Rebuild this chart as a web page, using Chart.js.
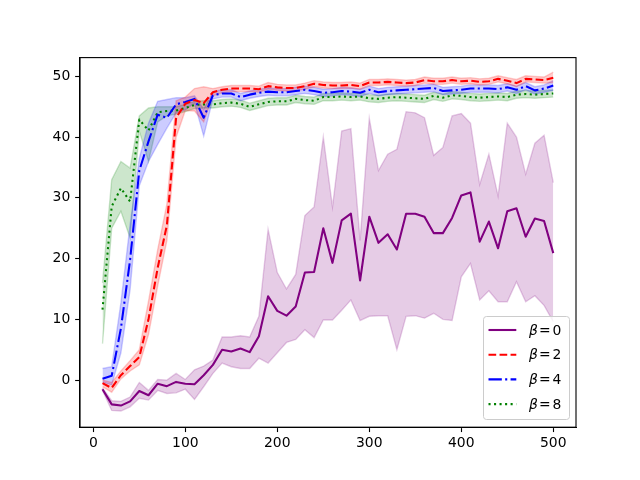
<!DOCTYPE html>
<html><head><meta charset="utf-8">
<script src="https://cdn.jsdelivr.net/npm/chart.js@4/dist/chart.umd.min.js"></script>
<style>html,body{margin:0;padding:0;background:#fff}</style>
</head><body>
<canvas id="c" width="640" height="480"></canvas>
<script>
const steps = [10,20,30,40,50,60,70,80,90,100,110,120,130,140,150,160,170,180,190,200,210,220,230,240,250,260,270,280,290,300,310,320,330,340,350,360,370,380,390,400,410,420,430,440,450,460,470,480,490,500];
const betas = [0, 2, 4, 8];
const xTicks = [0, 100, 200, 300, 400, 500];
const yTicks = [0, 10, 20, 30, 40, 50];

const meanB0 = [-1.5,-4.0,-4.2,-3.5,-1.8,-2.5,-0.6,-1.0,-0.3,-0.6,
  -0.7,0.8,2.5,5.0,4.7,5.2,4.6,7.2,13.8,11.4,
  10.6,12.1,17.7,17.8,25.0,19.3,26.3,27.4,16.4,26.9,
  22.6,24.0,21.5,27.4,27.4,26.9,24.2,24.2,26.7,30.4,
  30.9,22.8,26.1,21.7,27.8,28.3,23.6,26.6,26.2,20.9];
const upperB0 = [-1.3,-3.4,-3.5,-2.8,-0.4,-1.7,0.1,0.0,1.1,0.1,
  1.7,2.3,3.3,7.1,7.1,7.3,7.1,10.5,24.8,17.7,
  15.0,17.4,27.1,28.5,40.0,28.5,41.0,41.4,23.0,43.1,
  34.5,37.2,38.0,44.2,44.0,43.2,37.0,38.3,43.5,43.9,
  42.3,32.2,37.2,30.3,42.3,40.0,33.9,39.0,40.3,32.5];
const lowerB0 = [-1.7,-5.0,-5.1,-4.4,-3.0,-3.3,-1.7,-2.2,-2.1,-1.5,
  -3.2,-1.1,1.1,2.8,2.2,1.9,1.9,3.6,2.8,4.5,
  6.2,6.7,8.3,7.0,9.9,9.9,11.5,13.2,9.8,10.5,
  10.6,10.6,5.0,10.5,10.6,10.2,11.0,10.0,9.8,17.0,
  19.2,13.2,14.7,12.9,12.9,16.2,12.9,13.9,12.3,9.6];

const meanB2 = [-0.5,-1.3,0.8,2.3,3.8,10.0,18.5,25.5,43.2,45.5,
  46.1,45.6,47.4,47.8,48.0,48.0,48.0,47.9,48.4,48.2,
  48.1,48.1,48.4,48.8,48.6,48.5,48.5,48.6,48.4,49.0,
  49.0,49.1,49.0,48.9,49.0,49.4,49.2,49.2,49.4,49.2,
  49.3,49.1,49.2,49.6,49.3,48.9,49.6,49.5,49.4,49.8];
const upperB2 = [0.0,-0.4,1.5,3.2,5.0,13.0,21.5,29.0,46.0,46.6,
  48.0,48.3,48.0,48.3,48.5,48.5,48.5,48.4,49.0,48.7,
  48.6,48.6,48.9,49.3,49.1,49.0,49.0,49.1,48.9,49.5,
  49.5,49.6,49.5,49.4,49.5,49.9,49.7,49.7,49.9,49.7,
  49.8,49.6,49.7,50.1,49.8,49.5,50.1,50.0,49.9,50.7];
const lowerB2 = [-1.1,-2.0,0.2,1.5,2.5,7.5,15.5,23.0,40.0,44.4,
  44.3,42.5,46.8,47.3,47.5,47.5,47.5,47.4,47.9,47.7,
  47.6,47.6,47.9,48.3,48.1,48.0,48.0,48.1,47.9,48.5,
  48.5,48.6,48.5,48.4,48.5,48.9,48.7,48.7,48.9,48.7,
  48.8,48.6,48.7,49.1,48.8,48.3,49.1,49.0,48.9,49.0];

const meanB4 = [0.2,0.7,8.5,19.8,34.5,39.3,43.7,43.2,45.4,45.8,
  46.3,43.2,46.9,47.2,47.2,46.6,47.0,47.3,47.5,47.4,
  47.4,47.6,47.8,47.6,47.3,47.4,47.6,47.5,47.3,47.8,
  47.4,47.6,47.7,47.8,47.9,48.0,48.1,47.6,47.7,47.8,
  48.0,48.0,48.0,47.9,48.2,47.8,48.4,47.7,48.0,48.5];
const upperB4 = [1.9,2.2,12.7,25.6,36.5,42.3,45.9,46.2,46.5,46.5,
  46.8,44.6,47.5,47.8,47.8,47.2,47.6,47.9,48.1,48.0,
  48.0,48.2,48.4,48.2,47.9,48.0,48.2,48.1,47.9,48.4,
  48.0,48.2,48.3,48.4,48.5,48.6,48.7,48.2,48.3,48.4,
  48.6,48.6,48.6,48.5,48.8,48.4,49.0,48.3,48.6,49.3];
const lowerB4 = [-0.3,-0.8,4.5,14.9,32.0,36.0,38.8,41.5,44.0,44.5,
  45.6,40.2,46.3,46.6,46.6,46.0,46.4,46.7,46.9,46.8,
  46.8,47.0,47.2,47.0,46.7,46.8,47.0,46.9,46.7,47.2,
  46.8,47.0,47.1,47.2,47.3,47.4,47.5,47.0,47.1,47.2,
  47.4,47.4,47.4,47.3,47.6,47.2,47.8,47.1,47.4,47.7];

const meanB8 = [11.6,28.6,31.6,29.4,42.9,41.1,44.1,44.3,44.4,44.8,
  45.3,45.4,45.4,45.6,45.7,45.5,45.0,45.4,45.8,45.9,
  45.9,46.3,46.1,46.0,46.6,46.6,46.7,46.6,46.7,46.4,
  46.3,46.5,46.6,46.5,46.4,46.3,46.8,46.5,46.9,46.8,
  46.6,46.5,46.6,46.7,46.6,47.0,47.1,47.0,47.1,47.2];
const upperB8 = [16.0,33.0,36.0,34.9,43.5,44.8,45.0,45.0,45.0,45.4,
  45.9,46.0,46.0,46.2,46.3,46.1,45.6,46.0,46.4,46.5,
  46.5,46.9,46.7,46.6,47.2,47.2,47.3,47.2,47.3,47.0,
  46.9,47.1,47.2,47.1,47.0,46.9,47.4,47.1,47.5,47.4,
  47.2,47.1,47.2,47.3,47.2,47.6,47.7,47.6,47.7,47.8];
const lowerB8 = [6.0,25.0,27.8,23.4,41.0,36.0,42.5,43.5,43.8,44.2,
  44.7,44.8,44.8,45.0,45.1,44.9,44.4,44.8,45.2,45.3,
  45.3,45.7,45.5,45.4,46.0,46.0,46.1,46.0,46.1,45.8,
  45.7,45.9,46.0,45.9,45.8,45.7,46.2,45.9,46.3,46.2,
  46.0,45.9,46.0,46.1,46.0,46.4,46.5,46.4,46.5,46.6];

const means = [meanB0, meanB2, meanB4, meanB8];
const uppers = [upperB0, upperB2, upperB4, upperB8];
const lowers = [lowerB0, lowerB2, lowerB4, lowerB8];
const lineColors = ['#800080', '#ff0000', '#0000ff', '#008000'];
const bandColors = ['rgba(128,0,128,0.2)', 'rgba(255,0,0,0.2)', 'rgba(0,0,255,0.2)', 'rgba(0,128,0,0.2)'];
const LW = 2.08;
const dashes = [[], [7.7, 3.33], [13.33, 3.33, 2.08, 3.33], [2.08, 3.44]];

const pts = arr => arr.map((v, i) => ({x: steps[i], y: v}));

const datasets = [];
betas.forEach((b, i) => {
  datasets.push({
    label: 'upper' + b, data: pts(uppers[i]), borderColor: bandColors[i], borderWidth: 1.39,
    backgroundColor: bandColors[i], fill: '+1', pointRadius: 0, tension: 0, order: 2
  });
  datasets.push({
    label: 'lower' + b, data: pts(lowers[i]), borderColor: bandColors[i], borderWidth: 1.39,
    backgroundColor: bandColors[i], fill: false, pointRadius: 0, tension: 0, order: 2
  });
});
betas.forEach((b, i) => {
  datasets.push({
    label: 'β = ' + b, data: pts(means[i]), borderColor: lineColors[i], borderWidth: LW,
    borderDash: dashes[i], borderCapStyle: 'butt', borderJoinStyle: 'round', fill: false, pointRadius: 0, tension: 0, order: 1
  });
});

const FONT = 'DejaVu Sans';
const FS = 13.9;

const framePlugin = {
  id: 'frame',
  afterDraw(chart) {
    const {ctx, chartArea: a} = chart;
    ctx.save();
    ctx.strokeStyle = '#000';
    ctx.lineWidth = 1.11;
    ctx.setLineDash([]);
    ctx.strokeRect(a.left, a.top, a.right - a.left, a.bottom - a.top);
    // legend
    const x0 = 483.5, y0 = 316.5, w = 86, h = 103, r = 3;
    ctx.beginPath();
    ctx.moveTo(x0 + r, y0);
    ctx.lineTo(x0 + w - r, y0); ctx.quadraticCurveTo(x0 + w, y0, x0 + w, y0 + r);
    ctx.lineTo(x0 + w, y0 + h - r); ctx.quadraticCurveTo(x0 + w, y0 + h, x0 + w - r, y0 + h);
    ctx.lineTo(x0 + r, y0 + h); ctx.quadraticCurveTo(x0, y0 + h, x0, y0 + h - r);
    ctx.lineTo(x0, y0 + r); ctx.quadraticCurveTo(x0, y0, x0 + r, y0);
    ctx.closePath();
    ctx.fillStyle = 'rgba(255,255,255,0.8)';
    ctx.fill();
    ctx.strokeStyle = '#cccccc';
    ctx.lineWidth = 1;
    ctx.stroke();
    betas.forEach((b, i) => {
      const y = 330 + i * 24.7;
      ctx.beginPath();
      ctx.setLineDash(dashes[i]);
      ctx.strokeStyle = lineColors[i];
      ctx.lineWidth = LW;
      ctx.lineCap = 'butt';
      ctx.moveTo(488.5, y);
      ctx.lineTo(516.3, y);
      ctx.stroke();
      ctx.setLineDash([]);
      ctx.fillStyle = '#000';
      ctx.textBaseline = 'middle';
      ctx.textAlign = 'left';
      ctx.font = 'italic ' + FS + 'px "' + FONT + '"';
      ctx.fillText('β', 529, y + 1);
      ctx.font = FS + 'px "' + FONT + '"';
      ctx.fillText('=', 539, y + 1);
      ctx.fillText(String(b), 552.5, y + 1);
    });
    ctx.restore();
  }
};

new Chart(document.getElementById('c'), {
  type: 'line',
  data: {datasets},
  options: {
    responsive: false,
    animation: false,
    devicePixelRatio: 1,
    layout: {padding: {left: 0, right: 64, top: 57.6, bottom: 0}},
    plugins: {legend: {display: false}, tooltip: {enabled: false}, title: {display: false}},
    scales: {
      x: {
        type: 'linear', min: -14.46, max: 524.7,
        afterBuildTicks: s => { s.ticks = xTicks.map(v => ({value: v})); },
        afterFit: s => { s.height = 52.8; },
        grid: {display: true, drawOnChartArea: false, drawTicks: true, tickLength: 4.86, tickColor: '#000', tickWidth: 1.11, color: '#000'},
        border: {display: true, color: '#000', width: 1.11},
        ticks: {color: '#000', font: {family: FONT, size: FS}, padding: 3, maxRotation: 0, autoSkip: false}
      },
      y: {
        type: 'linear', min: -7.76, max: 53.1,
        afterBuildTicks: s => { s.ticks = yTicks.map(v => ({value: v})); },
        afterFit: s => { s.width = 80; },
        grid: {display: true, drawOnChartArea: false, drawTicks: true, tickLength: 4.86, tickColor: '#000', tickWidth: 1.11, color: '#000'},
        border: {display: true, color: '#000', width: 1.11},
        ticks: {color: '#000', font: {family: FONT, size: FS}, padding: 4.86, autoSkip: false}
      }
    }
  },
  plugins: [framePlugin]
});
</script>
</body></html>
